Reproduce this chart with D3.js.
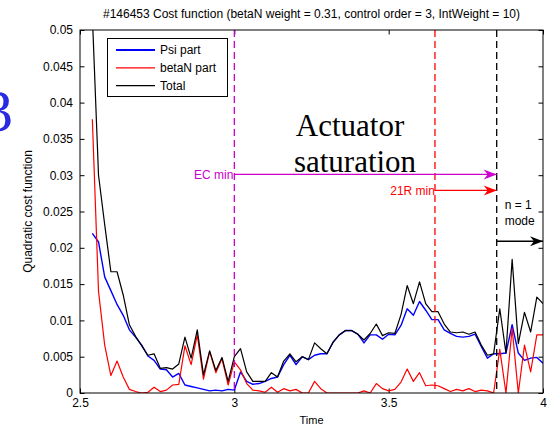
<!DOCTYPE html>
<html><head><meta charset="utf-8">
<script src="https://cdn.jsdelivr.net/npm/d3@7"></script>
<style>
  body { margin: 0; background: #fff; }
  svg { display: block; }
</style>
</head><body>
<svg id="chart" width="548" height="428"></svg>
<script>
// Shot #146453: cost function terms sampled every 20 ms
const time = [2.54,2.56,2.58,2.60,2.62,2.64,2.66,2.68,2.70,2.72,2.74,2.76,2.78,2.80,2.82,2.84,2.86,2.88,2.90,2.92,
  2.94,2.96,2.98,3.00,3.02,3.04,3.06,3.08,3.10,3.12,3.14,3.16,3.18,3.20,3.22,3.24,3.26,3.28,3.30,3.32,
  3.34,3.36,3.38,3.40,3.42,3.44,3.46,3.48,3.50,3.52,3.54,3.56,3.58,3.60,3.62,3.64,3.66,3.68,3.70,3.72,
  3.74,3.76,3.78,3.80,3.82,3.84,3.86,3.88,3.90,3.92,3.94,3.96,3.98,4.00];

const psiPart = [0.0220,0.0208,0.0160,0.0141,0.0122,0.0107,0.0087,0.0077,0.0066,0.0051,
  0.0045,0.0033,0.0032,0.0022,0.0027,0.0011,0.0009,0.0007,0.0005,0.0003,
  0.0004,0.0003,0.0005,0.0004,0.0029,0.0016,0.0012,0.0013,0.0016,0.0020,
  0.0022,0.0039,0.0052,0.0039,0.0050,0.0046,0.0052,0.0054,0.0054,0.0070,
  0.0080,0.0086,0.0086,0.0081,0.0069,0.0080,0.0080,0.0074,0.0081,0.0080,
  0.0093,0.0116,0.0107,0.0126,0.0114,0.0101,0.0101,0.0087,0.0082,0.0078,
  0.0077,0.0078,0.0081,0.0064,0.0048,0.0054,0.0054,0.0055,0.0094,0.0055,
  0.0045,0.0048,0.0049,0.0041];

const betaNPart = [0.0377,0.0140,0.0066,0.0024,0.0044,0.0022,0.0005,0.0002,0.0000,0.0001,
  0.0008,0.0002,0.0004,0.0011,0.0012,0.0065,0.0039,0.0080,0.0019,0.0057,
  0.0028,0.0047,0.0011,0.0043,0.0032,0.0013,0.0004,0.0003,0.0001,0.0008,
  0.0001,0.0006,0.0003,0.0005,0.0000,0.0000,0.0016,0.0006,0.0000,0.0000,
  0.0000,0.0000,0.0000,0.0000,0.0003,0.0000,0.0013,0.0006,0.0003,0.0005,
  0.0015,0.0033,0.0016,0.0028,0.0010,0.0011,0.0010,0.0006,0.0002,0.0005,
  0.0003,0.0006,0.0002,0.0004,0.0003,0.0000,0.0060,0.0000,0.0089,0.0000,
  0.0066,0.0029,0.0080,0.0080];

const total = [0.0520,0.0300,0.0232,0.0167,0.0167,0.0135,0.0094,0.0078,0.0065,0.0052,
  0.0054,0.0034,0.0035,0.0033,0.0040,0.0077,0.0048,0.0087,0.0025,0.0058,
  0.0031,0.0049,0.0016,0.0050,0.0061,0.0029,0.0016,0.0016,0.0016,0.0028,
  0.0022,0.0044,0.0054,0.0043,0.0050,0.0046,0.0069,0.0061,0.0054,0.0070,
  0.0080,0.0086,0.0086,0.0081,0.0073,0.0082,0.0095,0.0079,0.0083,0.0082,
  0.0108,0.0148,0.0123,0.0153,0.0123,0.0112,0.0112,0.0095,0.0084,0.0083,
  0.0084,0.0081,0.0084,0.0066,0.0052,0.0054,0.0116,0.0055,0.0184,0.0068,
  0.0111,0.0084,0.0132,0.0123];

const seriesNames = ["Psi part", "betaN part", "Total"];
const seriesColors = ["#0000ff", "#ff0000", "#000000"];

const xTickValues = [2.5, 3, 3.5, 4];
const xTickLabels = ["2.5", "3", "3.5", "4"];
const yTickValues = [0, 0.005, 0.01, 0.015, 0.02, 0.025, 0.03, 0.035, 0.04, 0.045, 0.05];
const yTickLabels = ["0", "0.005", "0.01", "0.015", "0.02", "0.025", "0.03", "0.035", "0.04", "0.045", "0.05"];

// Event times marked with vertical dashed lines
const ecMinTime = 3.0;
const r21MinTime = 3.65;
const modeOnsetTime = 3.85;
// Heights (cost units) of the annotation arrows
const ecArrowLevel = 0.0301;
const r21ArrowLevel = 0.0279;
const modeArrowLevel = 0.0209;

const SANS = "'Liberation Sans', Arial, Helvetica, sans-serif";
const SERIF = "'Liberation Serif', 'Times New Roman', serif";

const plot = { left: 80, right: 543, top: 30, bottom: 393 };

const svg = d3.select("#chart").style("font-family", SANS);
const x = d3.scaleLinear().domain([2.5, 4]).range([plot.left, plot.right]);
const y = d3.scaleLinear().domain([0, 0.05]).range([plot.bottom, plot.top]);

const defs = svg.append("defs");
defs.append("clipPath").attr("id", "plotClip")
  .append("rect")
  .attr("x", plot.left).attr("y", plot.top)
  .attr("width", plot.right - plot.left).attr("height", plot.bottom - plot.top);

["ecHead", "r21Head", "modeHead"].forEach((id, k) => {
  const col = ["#cc00cc", "#ff0000", "#000000"][k];
  defs.append("marker")
    .attr("id", id)
    .attr("viewBox", "-14 -6 16 12")
    .attr("refX", 0).attr("refY", 0)
    .attr("markerUnits", "userSpaceOnUse")
    .attr("markerWidth", 16).attr("markerHeight", 12)
    .attr("orient", "auto")
    .append("path")
    .attr("d", "M0,0 L-13,-5 L-9,0 L-13,5 Z")
    .attr("fill", col);
});

// Axes (ticks pointing inward on all four sides)
const tickLen = 4.5;
const gLeft = svg.append("g").attr("transform", `translate(${plot.left},0)`)
  .call(d3.axisLeft(y).tickValues(yTickValues).tickFormat((d, i) => yTickLabels[i])
    .tickSizeInner(-tickLen).tickSizeOuter(0).tickPadding(7));
const gRight = svg.append("g").attr("transform", `translate(${plot.right},0)`)
  .call(d3.axisRight(y).tickValues(yTickValues).tickFormat("")
    .tickSizeInner(-tickLen).tickSizeOuter(0));
const gBottom = svg.append("g").attr("transform", `translate(0,${plot.bottom})`)
  .call(d3.axisBottom(x).tickValues(xTickValues).tickFormat((d, i) => xTickLabels[i])
    .tickSizeInner(-tickLen).tickSizeOuter(0).tickPadding(5));
const gTop = svg.append("g").attr("transform", `translate(0,${plot.top})`)
  .call(d3.axisTop(x).tickValues(xTickValues).tickFormat("")
    .tickSizeInner(-tickLen).tickSizeOuter(0));
[gLeft, gRight, gBottom, gTop].forEach(g => {
  g.select(".domain").remove();
  g.selectAll(".tick line").attr("stroke", "#000").attr("stroke-width", 1);
  g.selectAll("text").attr("font-size", 12).attr("fill", "#000").style("font-family", SANS);
});

// Data lines
const lineGen = vals => d3.line()
  .x((d, i) => x(time[i]))
  .y(d => y(d))(vals);
const gLines = svg.append("g").attr("clip-path", "url(#plotClip)");
[psiPart, betaNPart, total].forEach((vals, k) => {
  gLines.append("path")
    .attr("d", lineGen(vals))
    .attr("fill", "none")
    .attr("stroke", seriesColors[k])
    .attr("stroke-width", k === 0 ? 1.4 : 1.2)
    .attr("stroke-linejoin", "round");
});

// Vertical event markers
const vlines = [
  { t: ecMinTime, color: "#cc00cc" },
  { t: r21MinTime, color: "#ff0000" },
  { t: modeOnsetTime, color: "#000000" }
];
svg.append("g").selectAll("line").data(vlines).join("line")
  .attr("x1", d => x(d.t)).attr("x2", d => x(d.t))
  .attr("y1", plot.top).attr("y2", plot.bottom)
  .attr("stroke", d => d.color)
  .attr("stroke-width", 1.3)
  .attr("stroke-dasharray", "7,4");

// Plot box
svg.append("rect")
  .attr("x", plot.left).attr("y", plot.top)
  .attr("width", plot.right - plot.left).attr("height", plot.bottom - plot.top)
  .attr("fill", "none").attr("stroke", "#000").attr("stroke-width", 1);

// Arrows
const arrows = [
  { x1: x(ecMinTime), x2: x(modeOnsetTime), v: ecArrowLevel, color: "#cc00cc", head: "ecHead" },
  { x1: x(r21MinTime), x2: x(modeOnsetTime), v: r21ArrowLevel, color: "#ff0000", head: "r21Head" },
  { x1: x(modeOnsetTime), x2: plot.right, v: modeArrowLevel, color: "#000000", head: "modeHead" }
];
svg.append("g").selectAll("line").data(arrows).join("line")
  .attr("x1", d => d.x1).attr("x2", d => d.x2)
  .attr("y1", d => y(d.v)).attr("y2", d => y(d.v))
  .attr("stroke", d => d.color).attr("stroke-width", 1.3)
  .attr("marker-end", d => `url(#${d.head})`);

// Annotation texts
svg.append("text").attr("x", x(ecMinTime) - 1).attr("y", y(ecArrowLevel))
  .attr("dy", "0.35em").attr("text-anchor", "end")
  .attr("font-size", 12).attr("fill", "#cc00cc").text("EC min");
svg.append("text").attr("x", x(r21MinTime)).attr("y", y(r21ArrowLevel))
  .attr("dy", "0.35em").attr("text-anchor", "end")
  .attr("font-size", 12).attr("fill", "#ff0000").text("21R min");
svg.append("text").attr("x", x(modeOnsetTime) + 8).attr("y", 209)
  .attr("font-size", 12).attr("fill", "#000").text("n = 1");
svg.append("text").attr("x", x(modeOnsetTime) + 8).attr("y", 225)
  .attr("font-size", 12).attr("fill", "#000").text("mode");

svg.append("text").attr("x", 350).attr("y", 136).attr("text-anchor", "middle")
  .style("font-family", SERIF)
  .attr("font-size", 31).attr("fill", "#000").text("Actuator");
svg.append("text").attr("x", 355).attr("y", 172).attr("text-anchor", "middle")
  .style("font-family", SERIF)
  .attr("font-size", 31).attr("fill", "#000").text("saturation");

// Panel label, partly past the left edge of the figure
svg.append("text").attr("x", -17).attr("y", 131)
  .style("font-family", SERIF)
  .attr("font-size", 60).attr("fill", "#2a2ae0").text("3");

// Legend
const legend = svg.append("g");
legend.append("rect").attr("x", 107.5).attr("y", 38.5).attr("width", 120).attr("height", 58)
  .attr("fill", "#fff").attr("stroke", "#000").attr("stroke-width", 1);
seriesNames.forEach((name, k) => {
  const ly = 50 + k * 17.8;
  legend.append("line").attr("x1", 116).attr("x2", 155).attr("y1", ly).attr("y2", ly)
    .attr("stroke", seriesColors[k]).attr("stroke-width", k === 0 ? 2 : 1.2);
  legend.append("text").attr("x", 160).attr("y", ly).attr("dy", "0.35em")
    .attr("font-size", 12).attr("fill", "#000").text(name);
});

// Titles
svg.append("text").attr("x", (plot.left + plot.right) / 2).attr("y", 18)
  .attr("text-anchor", "middle").attr("font-size", 12).attr("fill", "#000")
  .text("#146453 Cost function (betaN weight = 0.31, control order = 3, IntWeight = 10)");
svg.append("text").attr("x", (plot.left + plot.right) / 2).attr("y", 424)
  .attr("text-anchor", "middle").attr("font-size", 11).attr("fill", "#000").text("Time");
svg.append("text").attr("transform", `translate(32,${(plot.top + plot.bottom) / 2}) rotate(-90)`)
  .attr("text-anchor", "middle").attr("font-size", 12).attr("fill", "#000")
  .text("Quadratic cost function");
</script>
</body></html>
